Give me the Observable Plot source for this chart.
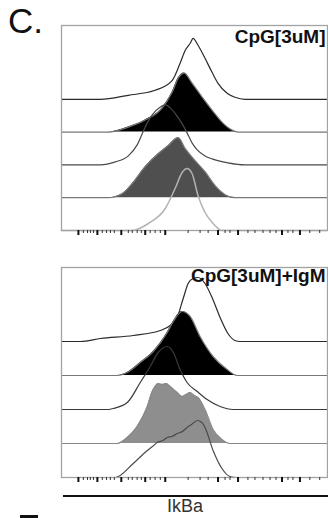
<!DOCTYPE html>
<html><head><meta charset="utf-8">
<script src="https://cdn.jsdelivr.net/npm/d3@7"></script>
<script src="https://cdn.jsdelivr.net/npm/@observablehq/plot@0.6"></script>
<style>
body{margin:0;background:#fff;font-family:"Liberation Sans",Arial,sans-serif}
#wrap{position:relative;width:328px;height:518px;overflow:hidden;background:#fff}
.abs{position:absolute}
</style></head><body>
<div id="wrap">
  <div class="abs" style="left:8px;top:3px;font-size:35px;line-height:35px;color:#111">C.</div>
  <div id="p1" class="abs" style="left:0;top:24px"></div>
  <div id="p2" class="abs" style="left:0;top:266px"></div>
  <div class="abs" style="left:63px;top:495px;width:265px;height:2px;background:#111"></div>
  <div class="abs" style="left:150px;top:497px;width:70px;text-align:center;font-size:18px;line-height:18px;color:#333">IkBa</div>
  <div class="abs" style="left:20px;top:515px;width:18px;height:3px;background:#111"></div>
</div>
<script>
// Panel titles and axis label
const panelLabels = ["CpG[3uM]", "CpG[3uM]+IgM"];
const axisLabel = "IkBa";

// Log-scale tick positions (channel units 0..1023)
const majorTicks = [65, 138, 230, 322, 399, 602, 679, 848, 917];
const minorTicks = [84, 100, 111, 123, 157, 173, 188, 203, 257, 272, 291, 307, 341, 360, 380, 487, 533, 564, 629, 648, 717, 744, 775, 802, 825, 871, 890, 955, 993];

// Panel 1 (CpG[3uM]) histograms, top to bottom: [channel, count]
const p1Row1 = [[0,0],[150,0],[257,4],[360,9],[426,19],[456,36],[476,49],[495,56],[506,61],[525,54],[552,41],[579,27],[602,16],[637,6],[667,2],[706,0],[1023,0]];
const p1Row2 = [[0,0],[180,0],[257,5],[322,12],[387,24],[426,40],[449,54],[472,59],[502,49],[541,35],[579,22],[617,10],[656,2],[679,0],[1023,0]];
const p1Row3 = [[0,0],[150,0],[207,3],[257,9],[291,20],[322,38],[349,50],[380,58],[399,60],[418,57],[441,50],[464,41],[483,32],[502,22],[522,15],[552,9],[579,6],[640,2],[706,0],[1023,0]];
const p1Row4 = [[0,0],[180,0],[234,4],[272,14],[322,31],[372,44],[410,52],[449,60],[476,49],[514,37],[552,26],[591,12],[629,3],[667,0],[1023,0]];
const p1Row5 = [[0,0],[272,0],[334,7],[399,22],[437,42],[464,58],[483,62],[502,57],[525,35],[552,18],[583,7],[617,0],[1023,0]];

// Panel 2 (CpG[3uM]+IgM) histograms, top to bottom
const p2Row1 = [[0,0],[73,0],[150,3],[276,6],[380,11],[418,16],[445,24],[468,43],[487,58],[506,63],[525,64],[552,58],[579,44],[610,24],[640,8],[667,1],[686,0],[1023,0]];
const p2Row2 = [[0,0],[215,0],[253,3],[303,13],[353,24],[407,43],[430,54],[464,64],[495,59],[533,39],[583,19],[637,6],[675,0],[1023,0]];
const p2Row3 = [[0,0],[180,0],[199,1],[253,7],[303,27],[341,43],[372,57],[407,63],[430,57],[456,40],[483,27],[522,18],[560,10],[610,3],[660,0],[1023,0]];
const p2Row4 = [[0,0],[215,0],[253,6],[291,17],[330,37],[349,52],[360,57],[372,60],[387,59],[403,60],[418,57],[445,51],[464,47],[480,49],[495,51],[510,48],[525,46],[552,34],[583,14],[617,4],[648,0],[1023,0]];
const p2Row5 = [[0,0],[207,0],[276,14],[330,27],[350,31],[368,35],[390,37],[407,40],[425,41],[445,44],[465,46],[483,50],[500,53],[522,57],[540,55],[552,50],[583,27],[617,9],[648,1],[675,0],[1023,0]];

const panels = [
  {el: "#p1", label: panelLabels[0], step: 32.8, span: 205, dy: 4,
   rows: [
     {data: p1Row1, stroke: "#2a2a2a"},
     {data: p1Row2, stroke: "#777", fill: "#000"},
     {data: p1Row3, stroke: "#4a4a4a"},
     {data: p1Row4, stroke: "#777", fill: "#4f4f4f"},
     {data: p1Row5, stroke: "#b3b3b3", width: 1.5}
   ]},
  {el: "#p2", label: panelLabels[1], step: 34, span: 210, dy: 1,
   rows: [
     {data: p2Row1, stroke: "#2a2a2a"},
     {data: p2Row2, stroke: "#777", fill: "#000"},
     {data: p2Row3, stroke: "#3a3a3a"},
     {data: p2Row4, stroke: "#888", fill: "#8e8e8e"},
     {data: p2Row5, stroke: "#4a4a4a"}
   ]}
];

for (const p of panels) {
  const marks = [];
  p.rows.forEach((r, i) => {
    const base = (p.rows.length - 1 - i) * p.step;
    const pts = r.data.map(([x, c]) => ({x, c}));
    if (r.fill) {
      marks.push(Plot.areaY(pts, {x: "x", y1: () => base, y2: d => base + d.c, fill: r.fill, curve: "monotone-x"}));
    }
    marks.push(Plot.lineY(pts, {x: "x", y: d => base + d.c, stroke: r.stroke, strokeWidth: r.width || 1.2, curve: "monotone-x"}));
  });
  marks.push(Plot.frame({stroke: "#a3a3a3", strokeWidth: 1.3}));
  marks.push(Plot.axisX(minorTicks, {tickSize: 3, stroke: "#333", strokeWidth: 1, tickFormat: () => "", label: null}));
  marks.push(Plot.axisX(majorTicks, {tickSize: 5, stroke: "#111", strokeWidth: 2, tickFormat: () => "", label: null}));
  marks.push(Plot.text([p.label], {text: d => d, frameAnchor: "top-right", textAnchor: "end", lineAnchor: "top",
    dx: -2, dy: p.dy, fontSize: 19, fontWeight: "bold", fill: "#111"}));
  const chart = Plot.plot({
    width: 328,
    height: 1 + p.span + 10,
    marginTop: 1, marginBottom: 10, marginLeft: 61, marginRight: 1,
    x: {domain: [0, 1023]},
    y: {domain: [0, p.span], axis: null},
    style: {fontFamily: "Liberation Sans, Arial, sans-serif", background: "transparent", overflow: "visible"},
    marks
  });
  document.querySelector(p.el).appendChild(chart);
}
</script>
</body></html>
